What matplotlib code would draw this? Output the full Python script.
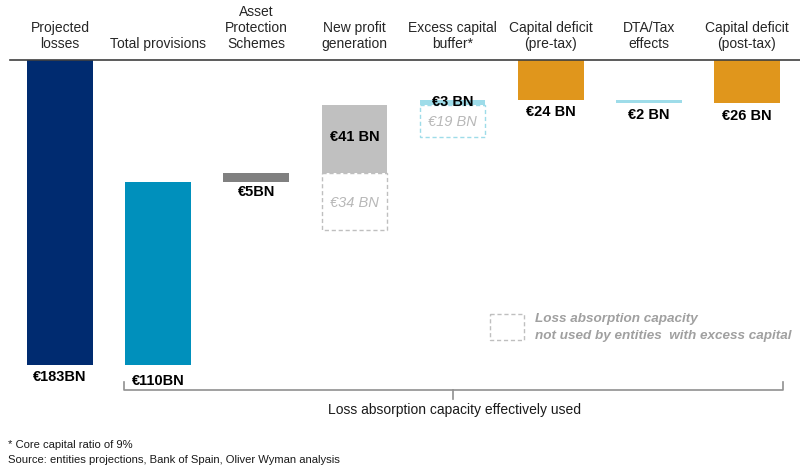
import matplotlib
matplotlib.use("Agg")
import matplotlib.pyplot as plt
from matplotlib.patches import Rectangle

plt.rcParams['font.family'] = ['Liberation Sans', 'DejaVu Sans']

categories = ["Projected\nlosses", "Total provisions", "Asset\nProtection\nSchemes",
              "New profit\ngeneration", "Excess capital\nbuffer*", "Capital deficit\n(pre-tax)",
              "DTA/Tax\neffects", "Capital deficit\n(post-tax)"]
# bar top / bottom measured as depth below the top line (EUR BN)
bar_start = [0, 73, 68, 27, 24, 0, 24, 0]
bar_end = [183, 183, 73, 68, 27, 24, 26, 26]
value_labels = ["€183BN", "€110BN", "€5BN", "€41 BN", "€3 BN", "€24 BN", "€2 BN", "€26 BN"]
colors = ["#002B70", "#0090BC", "#808080", "#C0C0C0", "#9EDCE9", "#E0961C", "#9EDCE9", "#E0961C"]
# unused capacity (dashed boxes)
unused_idx = [3, 4]
unused_start = [68, 27]
unused_end = [102, 46]
unused_labels = ["€34 BN", "€19 BN"]
unused_colors = ["#BFBFBF", "#9EDCE9"]

fig = plt.figure(figsize=(8, 4.67), dpi=100)
ax = fig.add_axes([0, 0, 1, 1])
step = 98.14
ax.set_xlim(-60 / step, 740 / step)
ppu = 305 / 183.0
ax.set_ylim((467 - 60) / ppu, -60 / ppu)
ax.axis('off')

def px_y(p):
    return (p - 60) / ppu

def px_x(p):
    return (p - 60) / step

w = 0.67
for i, (s, e, c) in enumerate(zip(bar_start, bar_end, colors)):
    ax.bar(i, e - s, bottom=s, width=w, color=c, edgecolor='none', zorder=2)

for i, s, e, c, lab in zip(unused_idx, unused_start, unused_end, unused_colors, unused_labels):
    ax.add_patch(Rectangle((i - w / 2, s), w, e - s, fill=False, edgecolor=c,
                           linestyle=(0, (3, 2)), linewidth=1, zorder=3))
    ax.text(i, (s + e) / 2 + 1, lab, ha='center', va='center', fontsize=10.5,
            style='italic', color='#B8B8B8')

# value labels
label_pos = [px_y(377), px_y(381), px_y(192), px_y(137), px_y(102), px_y(112), px_y(115), px_y(116)]
for i, (lab, yp) in enumerate(zip(value_labels, label_pos)):
    ax.text(i, yp, lab, ha='center', va='center', fontsize=10.5, fontweight='bold',
            color='black', zorder=4)

# header labels
for i, cat in enumerate(categories):
    ax.text(i, px_y(51), cat, ha='center', va='bottom', fontsize=10,
            color='#262626', linespacing=1.2)

# top line
ax.plot([px_x(10), px_x(800)], [0, 0], color='#404040', lw=1.2)

# bracket
by = px_y(390)
bl, br = px_x(124), px_x(783)
ax.plot([bl, bl, br, br], [px_y(382), by, by, px_y(382)], color='#909090', lw=1.2)
ax.plot([px_x(453), px_x(453)], [by, px_y(399)], color='#909090', lw=1.2)
ax.text(px_x(455), px_y(410), "Loss absorption capacity effectively used", ha='center',
        va='center', fontsize=10, color='#1a1a1a')

# legend
ax.add_patch(Rectangle((px_x(490), px_y(314)), 34 / step, 26 / ppu, fill=False,
                       edgecolor='#BFBFBF', linestyle=(0, (3, 2)), lw=1))
ax.text(px_x(535), px_y(319), "Loss absorption capacity", ha='left', va='center',
        fontsize=9.7, style='italic', fontweight='bold', color='#A0A0A0')
ax.text(px_x(535), px_y(336), "not used by entities  with excess capital", ha='left',
        va='center', fontsize=9.7, style='italic', fontweight='bold', color='#A0A0A0')

# footnotes
fig.text(8 / 800, 1 - 445 / 467, "* Core capital ratio of 9%", ha='left', va='center',
         fontsize=8.1, color='#1a1a1a')
fig.text(8 / 800, 1 - 460 / 467, "Source: entities projections, Bank of Spain, Oliver Wyman analysis",
         ha='left', va='center', fontsize=8.1, color='#1a1a1a')

fig.savefig("out.png", dpi=100, facecolor='white')
